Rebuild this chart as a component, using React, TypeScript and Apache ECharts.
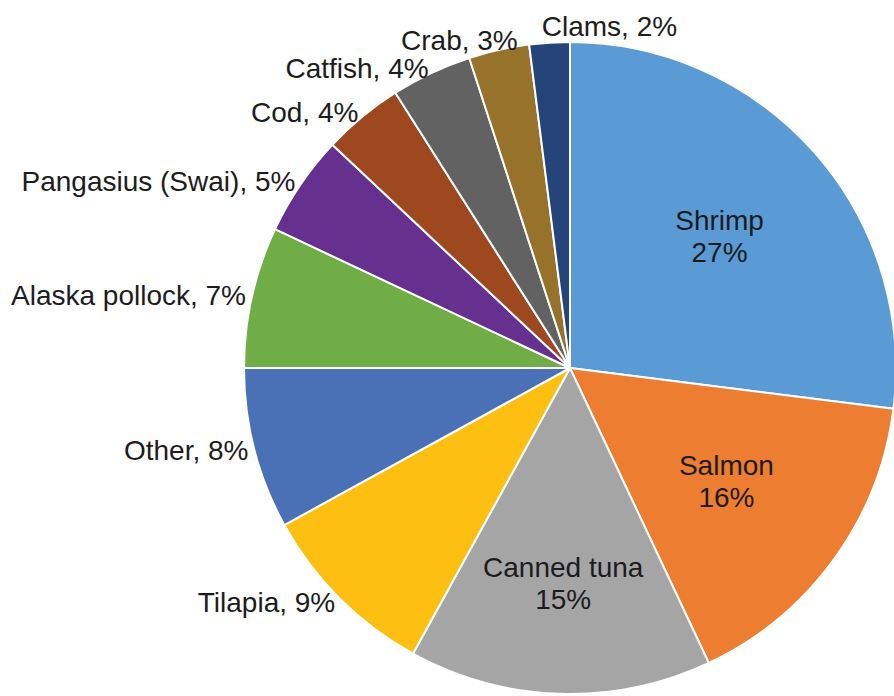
import React, { useEffect, useRef } from "react";
import * as echarts from "echarts";

// Shares of U.S. seafood consumption (%), clockwise from 12 o'clock
const categories = [
  "Shrimp",
  "Salmon",
  "Canned tuna",
  "Tilapia",
  "Other",
  "Alaska pollock",
  "Pangasius (Swai)",
  "Cod",
  "Catfish",
  "Crab",
  "Clams",
];
const shares = [27, 16, 15, 9, 8, 7, 5, 4, 4, 3, 2];
const insideLabelled = ["Shrimp", "Salmon", "Canned tuna"];
const sliceColors = [
  "#5B9BD5",
  "#ED7D31",
  "#A5A5A5",
  "#FCBF12",
  "#4A70B6",
  "#70AD47",
  "#66308F",
  "#9E4820",
  "#626262",
  "#96722A",
  "#25447A",
];

const CX = 570;
const CY = 368;
const R = 326;

export default function App() {
  const ref = useRef<HTMLDivElement | null>(null);

  useEffect(() => {
    if (!ref.current) return;
    const chart = echarts.init(ref.current, undefined, { renderer: "svg" });
    const total = shares.reduce((a, b) => a + b, 0);
    const before: number[] = [];
    shares.reduce((acc, v, i) => {
      before[i] = acc;
      return acc + v;
    }, 0);

    const data = categories.map((name, i) => {
      const inside = insideLabelled.includes(name);
      return {
        name,
        value: shares[i],
        itemStyle: { color: sliceColors[i] },
        label: inside
          ? {
              position: "inside",
              formatter: (p: any) => `${p.name}\n${p.value}%`,
              lineHeight: 32,
            }
          : {
              position: "outside",
              minMargin: 24,
              formatter: (p: any) => `${p.name}, ${p.value}%`,
            },
      };
    });

    chart.setOption({
      animation: false,
      backgroundColor: "#ffffff",
      series: [
        {
          type: "pie",
          center: [CX, CY],
          radius: [0, R],
          startAngle: 90,
          clockwise: true,
          avoidLabelOverlap: false,
          itemStyle: { borderColor: "#ffffff", borderWidth: 2 },
          label: {
            show: true,
            color: "#1c1c1c",
            fontSize: 28,
            fontFamily: "'Liberation Sans', Arial, Helvetica, sans-serif",
          },
          labelLine: { show: false },
          labelLayout: (params: any) => {
            const i = params.dataIndex;
            const mid = ((before[i] + shares[i] / 2) / total) * Math.PI * 2;
            const ux = Math.sin(mid);
            const uy = -Math.cos(mid);
            const w = params.labelRect.width;
            const h = params.labelRect.height;
            if (insideLabelled.includes(categories[i])) {
              // keep the label box inside, its edge along the ray at ~0.76 R
              const exit = Math.min(
                w / 2 / Math.max(Math.abs(ux), 1e-6),
                h / 2 / Math.max(Math.abs(uy), 1e-6)
              );
              const t = R * 0.76 - exit;
              return {
                x: CX + t * ux,
                y: CY + t * uy,
                align: "center",
                verticalAlign: "middle",
              };
            }
            const px = CX + (R + 6) * ux;
            const py = CY + (R + 5) * uy;
            const fx = Math.sign(ux) * Math.min(1, Math.abs(ux) * 3);
            const fy = uy * (1 - Math.abs(fx));
            return {
              x: px + (w / 2) * fx,
              y: py + (h / 2) * fy,
              align: "center",
              verticalAlign: "middle",
              moveOverlap: Math.abs(ux) < 0.3 ? "shiftX" : undefined,
            };
          },
          data,
        },
      ],
    });
    return () => chart.dispose();
  }, []);

  return (
    <div
      ref={ref}
      style={{ position: "absolute", left: 0, top: 0, width: 894, height: 696 }}
    />
  );
}
